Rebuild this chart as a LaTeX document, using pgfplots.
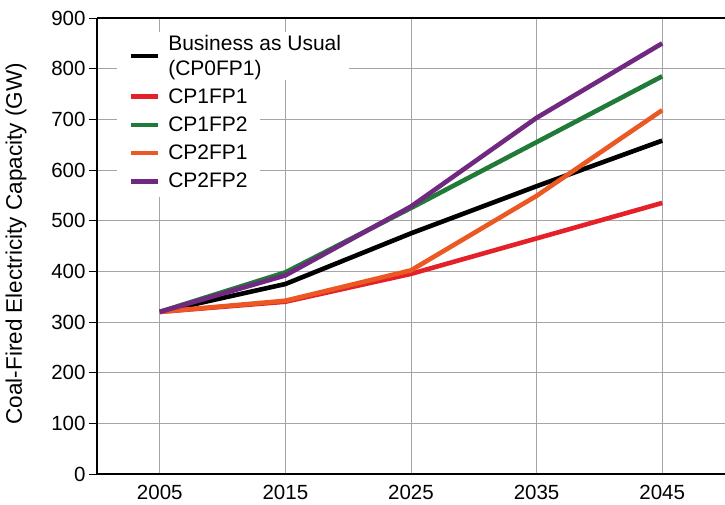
\documentclass[border=0pt]{standalone}
\usepackage{fontspec}
\setmainfont{Liberation Sans}
\usepackage{pgfplots}
\pgfplotsset{compat=1.18}

\definecolor{cred}{RGB}{228,32,40}
\definecolor{cgreen}{RGB}{34,122,58}
\definecolor{corange}{RGB}{236,88,36}
\definecolor{cpurple}{RGB}{112,40,128}
\definecolor{cgrid}{RGB}{165,165,165}

\begin{document}
\begin{tikzpicture}
\begin{axis}[
  scale only axis,
  width=628pt,height=456pt,
  at={(0,0)},anchor=south west,
  xmin=2000,xmax=2050,ymin=0,ymax=900,
  axis x line=box, axis y line=left,
  axis line style={line width=2.4pt,-},
  xtick={2005,2015,2025,2035,2045},
  ytick={0,100,...,900},
  xticklabel style={/pgf/number format/1000 sep={}},
  /pgf/number format/assume math mode=true,
  ticklabel style={font=\fontsize{20.5}{22}\selectfont},
  x tick style={draw=none},
  y tick style={line width=1pt,black},
  tick align=outside,
  major tick length=8pt,
  grid=major,
  grid style={cgrid,line width=1pt},
  ylabel={Coal-Fired Electricity Capacity (GW)},
  every axis y label/.style={at={(axis description cs:-0.129,0.505)},rotate=90,
    anchor=center,font=\fontsize{22.5}{24}\selectfont},
  legend style={at={(0.047,0.972)},anchor=north west,draw=none,fill=none,
    font=\fontsize{21}{25}\selectfont,nodes={align=left},row sep=8pt,
    inner sep=2pt,/tikz/every odd column/.append style={column sep=6pt}},
  legend cell align=left,
  legend image code/.code={\draw[#1] (0pt,0pt) -- (27pt,0pt);},
  every axis plot/.append style={line width=4.6pt},
]
\fill[white] (axis cs:2001.6,872) rectangle (axis cs:2020.1,777);
\fill[white] (axis cs:2001.6,777) rectangle (axis cs:2013.0,547);

\addplot[black] coordinates {(2005,320)(2015,375)(2025,475)(2035,568)(2045,658)};
\addplot[cred] coordinates {(2005,320)(2015,340)(2025,395)(2035,465)(2045,535)};
\addplot[cgreen] coordinates {(2005,320)(2015,398)(2025,525)(2035,655)(2045,785)};
\addplot[corange] coordinates {(2005,320)(2015,342)(2025,402)(2035,549)(2045,718)};
\addplot[cpurple] coordinates {(2005,320)(2015,392)(2025,528)(2035,703)(2045,850)};
\legend{Business as Usual\\(CP0FP1),CP1FP1,CP1FP2,CP2FP1,CP2FP2}
\end{axis}
\pgfresetboundingbox
\path (-97pt,-30pt) rectangle (628pt,474pt);
\end{tikzpicture}
\end{document}
